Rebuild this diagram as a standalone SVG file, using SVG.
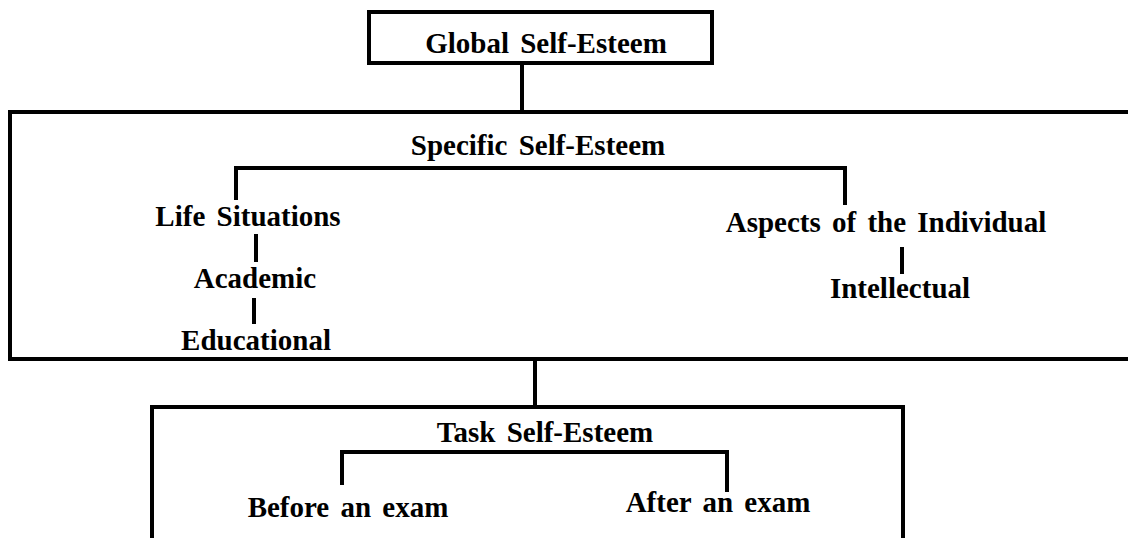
<svg xmlns="http://www.w3.org/2000/svg" width="1128" height="538" viewBox="0 0 1128 538">
  <style>
    .box { fill: none; stroke: #000; stroke-width: 4; }
    .link { fill: none; stroke: #000; stroke-width: 4; stroke-linecap: square; }
    .lbl { font-family: "Liberation Serif", "Times New Roman", serif; font-weight: bold; font-size: 29px; fill: #000; text-anchor: middle; word-spacing: 4px; }
  </style>
  <rect width="1128" height="538" fill="#fff"/>

  <!-- connectors -->
  <g id="connectors">
    <line class="link" x1="522" y1="63" x2="522" y2="112"/>
    <path class="link" d="M236,198 V168 H845 V203"/>
    <line class="link" x1="256" y1="236" x2="256" y2="260"/>
    <line class="link" x1="254" y1="300" x2="254" y2="322"/>
    <line class="link" x1="902" y1="249" x2="902" y2="272"/>
    <line class="link" x1="535" y1="359" x2="535" y2="407"/>
    <path class="link" d="M342,483 V452 H727 V490"/>
  </g>

  <!-- top level -->
  <g id="global">
    <rect class="box" x="369" y="12" width="343" height="51"/>
    <text class="lbl" x="546" y="53">Global Self-Esteem</text>
  </g>

  <!-- middle level, runs past the right edge -->
  <g id="specific">
    <path class="box" d="M1132,112 H10 V359 H1132"/>
    <text class="lbl" x="538" y="155">Specific Self-Esteem</text>
  </g>
  <g id="life-situations">
    <text class="lbl" x="248" y="226">Life Situations</text>
  </g>
  <g id="academic">
    <text class="lbl" x="255" y="288">Academic</text>
  </g>
  <g id="educational">
    <text class="lbl" x="256" y="350">Educational</text>
  </g>
  <g id="aspects">
    <text class="lbl" x="886" y="232">Aspects of the Individual</text>
  </g>
  <g id="intellectual">
    <text class="lbl" x="900" y="298">Intellectual</text>
  </g>

  <!-- bottom level, runs past the lower edge -->
  <g id="task">
    <path class="box" d="M152,542 V407 H903 V542"/>
    <text class="lbl" x="545" y="442">Task Self-Esteem</text>
  </g>
  <g id="before">
    <text class="lbl" x="348" y="517">Before an exam</text>
  </g>
  <g id="after">
    <text class="lbl" x="718" y="512">After an exam</text>
  </g>
</svg>
